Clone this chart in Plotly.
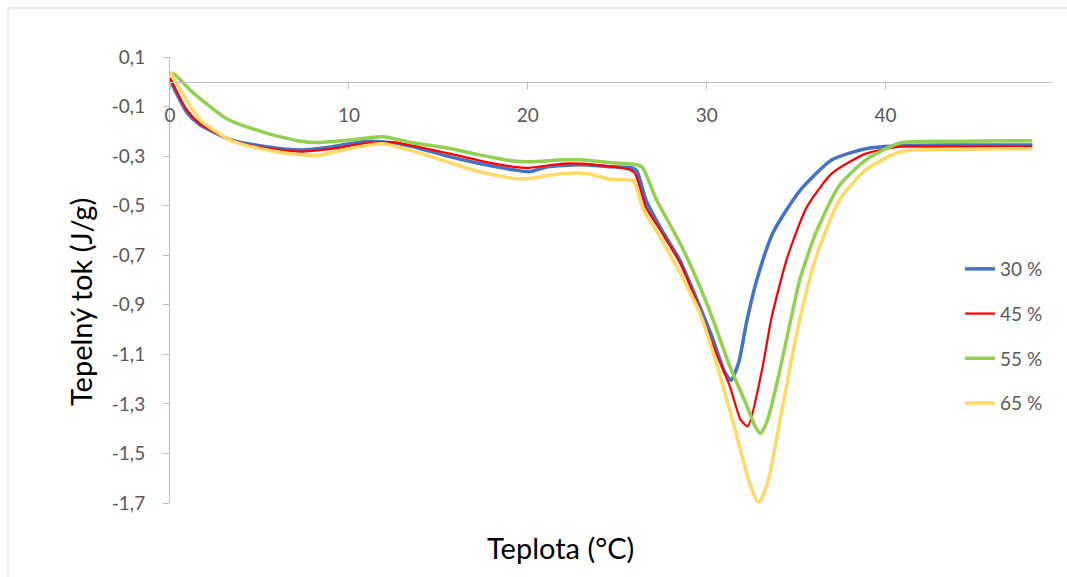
import plotly.graph_objects as go

# ---- data ----
x_30 = [0, 0.95, 1.7, 3.5, 5.4, 7.3, 9.1, 11, 12.5, 13.6, 15.5, 17.3, 19.2, 20.1, 21.1, 22.9, 24.7, 25.8,
        26.1, 26.6, 27.5, 28.5, 29.4, 30.3, 31.0, 31.35, 31.8, 32.2, 32.8, 33.7, 35.2, 37.0, 38.9,
        41, 44, 48.2]
y_30 = [0.008, -0.125, -0.175, -0.237, -0.262, -0.275, -0.262, -0.24, -0.247, -0.262, -0.30, -0.33, -0.355,
        -0.363, -0.343, -0.335, -0.343, -0.347, -0.36, -0.477, -0.60, -0.72, -0.87, -1.03, -1.17, -1.205,
        -1.13, -0.98, -0.80, -0.61, -0.44, -0.315, -0.27, -0.257, -0.255, -0.255]

x_45 = [0, 0.95, 1.7, 3.5, 5.4, 7.3, 9.1, 11, 12.5, 15.5, 17.3, 19.2, 20.1, 22.0, 23.8, 25.7, 26.0, 26.6,
        27.5, 28.5, 29.4, 30.3, 31.3, 31.9, 32.3, 33.1, 33.6, 34.5, 35.6, 37.0, 38.9, 40.8, 44, 48.2]
y_45 = [0.015, -0.115, -0.17, -0.238, -0.268, -0.282, -0.27, -0.248, -0.245, -0.288, -0.318, -0.343, -0.347,
        -0.33, -0.335, -0.355, -0.37, -0.505, -0.61, -0.73, -0.88, -1.055, -1.23, -1.365, -1.39,
        -1.16, -0.96, -0.71, -0.505, -0.37, -0.29, -0.262, -0.262, -0.262]

x_55 = [0, 0.25, 1.3, 3.2, 5.4, 7.3, 8.2, 10, 11.9, 13.6, 15.5, 17.3, 19.2, 20.1, 22.0, 22.9, 24.7, 26.1,
        26.4, 27.2, 28.5, 29.4, 30.3, 31.3, 32.2, 32.7, 33.0, 33.4, 34.1, 34.7, 35.2, 36.1, 37.4, 38.9,
        40.8, 44, 48.2]
y_55 = [0.035, 0.03, -0.045, -0.15, -0.207, -0.24, -0.245, -0.235, -0.222, -0.247, -0.267, -0.295, -0.32,
        -0.323, -0.315, -0.315, -0.327, -0.335, -0.345, -0.477, -0.65, -0.79, -0.95, -1.15, -1.30, -1.39,
        -1.42, -1.365, -1.16, -0.96, -0.80, -0.61, -0.42, -0.315, -0.247, -0.24, -0.238]

x_65 = [0, 0.9, 1.7, 3.5, 5.4, 7.3, 8.2, 10, 11.9, 13.6, 15.5, 17.3, 19.2, 20.1, 22.0, 23.3, 24.7, 25.9,
        26.4, 27.5, 28.5, 29.6, 30.6, 31.5, 32.4, 32.9, 33.4, 34.1, 34.8, 35.2, 36.1, 37.4, 38.9, 40.8,
        44, 48.2]
y_65 = [0.04, -0.07, -0.155, -0.24, -0.275, -0.295, -0.298, -0.27, -0.25, -0.28, -0.323, -0.363, -0.39,
        -0.39, -0.37, -0.37, -0.395, -0.40, -0.505, -0.64, -0.77, -0.93, -1.15, -1.38, -1.62, -1.70, -1.62,
        -1.365, -1.10, -0.96, -0.71, -0.48, -0.355, -0.283, -0.272, -0.27]

series_names = ["30 %", "45 %", "55 %", "65 %"]
series_x = [x_30, x_45, x_55, x_65]
series_y = [y_30, y_45, y_55, y_65]
series_colors = ["#4472C4", "#FF0000", "#92D050", "#FFD966"]
series_widths = [3.5, 2.25, 3.5, 3.5]

x_ticks = [0, 10, 20, 30, 40]
y_ticks = [0.1, -0.1, -0.3, -0.5, -0.7, -0.9, -1.1, -1.3, -1.5, -1.7]
y_tick_labels = ["0,1", "-0,1", "-0,3", "-0,5", "-0,7", "-0,9", "-1,1", "-1,3", "-1,5", "-1,7"]

x_title = "Teplota (°C)"
y_title = "Tepelný tok (J/g)"

Y_MIN, Y_MAX = -1.7, 0.1
X_MIN, X_MAX = 0, 49.3

FONT = "Lato"
GRAY = "#595959"
AXIS = "#BFBFBF"

fig = go.Figure()
for name, xs, ys, c, w in zip(series_names, series_x, series_y, series_colors, series_widths):
    fig.add_trace(go.Scatter(x=xs, y=ys, mode="lines", name=name, legendgroup=name,
                             line=dict(color=c, width=w, shape="spline", smoothing=0.6)))

W, H = 1067, 577
ml, mr, mt, mb = 170, 15, 57, 74
pw = W - ml - mr
ph = H - mt - mb

def px_x(p):
    return (p - ml) / pw

def px_y(p):
    return 1 - (p - mt) / ph

fig.update_layout(
    width=W, height=H,
    margin=dict(l=ml, r=mr, t=mt, b=mb),
    paper_bgcolor="white", plot_bgcolor="white",
    font=dict(family=FONT, color=GRAY, size=18),
    xaxis=dict(range=[X_MIN, X_MAX], tickvals=x_ticks, showgrid=False, zeroline=False,
               showline=True, linecolor=AXIS, linewidth=1, ticks="outside", ticklen=6,
               tickcolor=AXIS, anchor="free", position=(0 - Y_MIN) / (Y_MAX - Y_MIN),
               ticklabelstandoff=10, tickfont=dict(size=19, color=GRAY)),
    yaxis=dict(range=[Y_MIN, Y_MAX], tickvals=y_ticks, ticktext=y_tick_labels, showgrid=False,
               zeroline=False, showline=True, linecolor=AXIS, linewidth=1, ticks="outside",
               ticklen=6, tickcolor=AXIS, ticklabelstandoff=14, tickfont=dict(size=19, color=GRAY)),
    legend=dict(x=px_x(960), y=px_y(250), xanchor="left", yanchor="top",
                bgcolor="rgba(0,0,0,0)", font=dict(size=19, color=GRAY),
                traceorder="grouped", tracegroupgap=17, itemwidth=30),
    showlegend=True,
    shapes=[dict(type="rect", xref="paper", yref="paper",
                 x0=px_x(8), x1=px_x(1075), y0=px_y(590), y1=px_y(8),
                 line=dict(color="#D9D9D9", width=1), fillcolor="rgba(0,0,0,0)", layer="below")],
    annotations=[
        dict(text=x_title, xref="paper", yref="paper", x=px_x(560), y=px_y(547),
             showarrow=False, font=dict(size=29, color="#000000"), xanchor="center", yanchor="middle"),
        dict(text=y_title, xref="paper", yref="paper", x=px_x(80), y=px_y(302),
             showarrow=False, textangle=-90, font=dict(size=29, color="#000000"),
             xanchor="center", yanchor="middle"),
    ],
)

fig.write_html("out.html")
